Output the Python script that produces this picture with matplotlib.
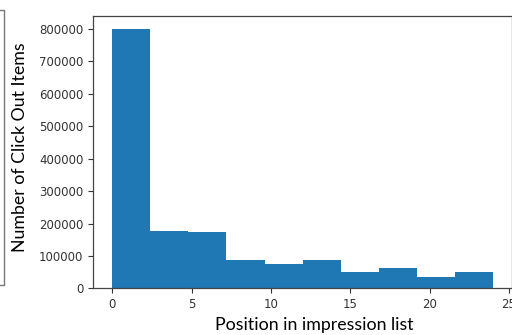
import matplotlib
matplotlib.use("Agg")
import matplotlib.pyplot as plt
import numpy as np
from matplotlib.lines import Line2D

# Data: histogram of click-out positions (10 bins over 0..24)
bin_edges = [0.0, 2.4, 4.8, 7.2, 9.6, 12.0, 14.4, 16.8, 19.2, 21.6, 24.0]
counts = [800000, 177000, 174000, 89000, 74000, 89000, 50000, 62000, 35000, 50000]
x_label = "Position in impression list"
y_label = "Number of Click Out Items"

fig = plt.figure(figsize=(5.12, 3.35), dpi=100)
ax = fig.add_axes([0.182, 0.139, 0.818, 0.813])

edges = np.array(bin_edges)
centers = (edges[:-1] + edges[1:]) / 2
ax.hist(centers, bins=edges, weights=counts, color="#1f77b4")

ax.set_xticks([0, 5, 10, 15, 20, 25])
ax.set_yticks(np.arange(0, 800001, 100000))
ax.tick_params(labelsize=8.5, colors="#333333", length=3.5)
for s in ax.spines.values():
    s.set_color("#444444")
    s.set_linewidth(0.9)

fig.text(0.613, 0.030, x_label, ha="center", va="center",
         fontsize=12.8, family="Lato", color="black")
fig.text(0.039, 0.561, y_label, ha="center", va="center", rotation=90,
         fontsize=12.8, family="Lato", color="black")

# fragment of neighbouring panel's frame at far left
fig.add_artist(Line2D([0, 4/512, 4/512, 0],
                      [1 - 10/335, 1 - 10/335, 1 - 285/335, 1 - 285/335],
                      transform=fig.transFigure, color="#777777", lw=1.0))

fig.savefig("out.png", dpi=100)
